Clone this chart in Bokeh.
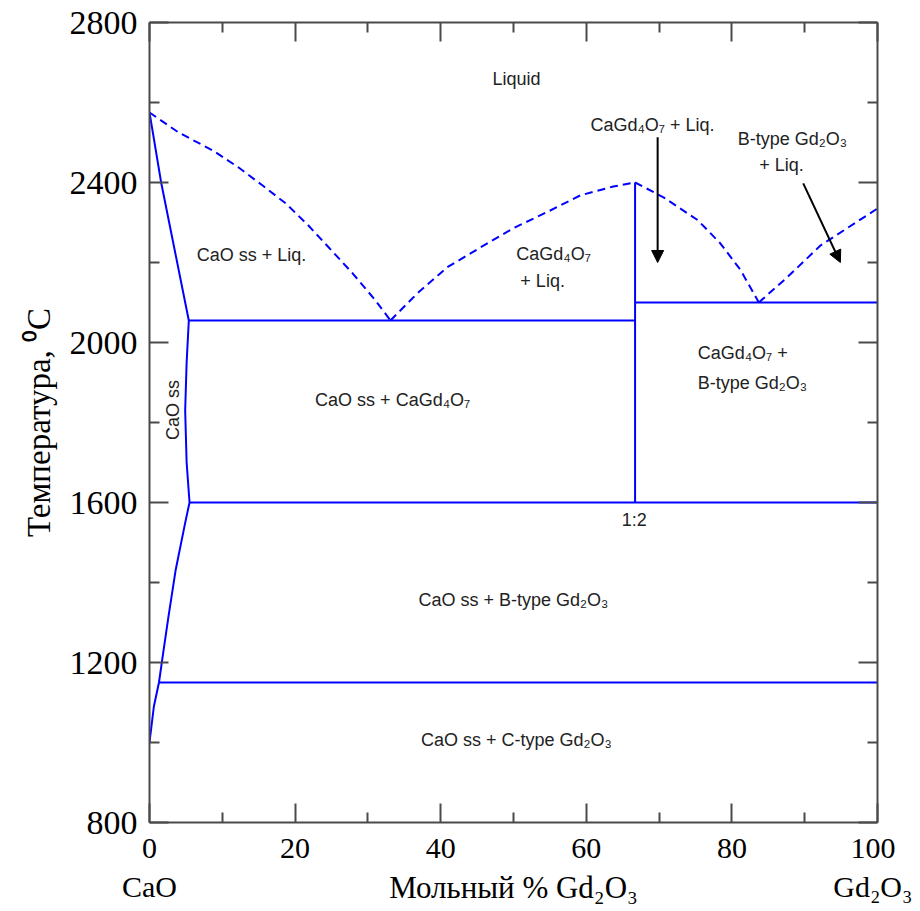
from math import pi
from bokeh.plotting import figure
from bokeh.models import (Range1d, FixedTicker, LinearAxis, ColumnDataSource, Arrow,
                          NormalHead, Title, CustomJSTickFormatter)
from bokeh.core.properties import value
from bokeh.embed import file_html
from bokeh.resources import INLINE

# ---------------- data ----------------
x_major = [0, 20, 40, 60, 80, 100]
x_minor = [10, 30, 50, 70, 90]
y_major = [800, 1200, 1600, 2000, 2400, 2800]
y_minor = [1000, 1400, 1800, 2200, 2600]
x_end_labels = {0: "0\nCaO", 100: "100\nGd₂O₃"}

# liquidus (dashed)
liq_left_x = [0, 4.0, 8.7, 12.2, 15.5, 18.7, 21.8, 24.6, 27.9, 31.0, 33.1]
liq_left_t = [2575, 2525, 2480, 2438, 2393, 2348, 2293, 2238, 2173, 2106, 2055]
liq_mid_x = [33.1, 36.8, 40.9, 45.5, 50.0, 54.6, 59.2, 63.7, 66.7]
liq_mid_t = [2055, 2123, 2188, 2238, 2286, 2326, 2368, 2390, 2400]
liq_right_x = [66.7, 70.6, 75.3, 78.4, 81.2, 83.7]
liq_right_t = [2400, 2363, 2306, 2248, 2181, 2100]
liq_gd_x = [83.7, 87.6, 92.2, 100]
liq_gd_t = [2100, 2163, 2243, 2335]

# CaO solid solution boundary (solid)
ss_x = [0, 1.6, 5.4, 5.1, 4.9, 5.1, 5.5, 4.9, 3.6, 2.6, 1.8, 1.3, 0.6, 0]
ss_t = [2575, 2400, 2055, 1950, 1830, 1700, 1600, 1549, 1432, 1314, 1214, 1150, 1090, 1000]

# invariant lines
seg_x0 = [5.4, 5.5, 1.3, 66.7, 66.7]
seg_x1 = [66.7, 100, 100, 100, 66.7]
seg_t0 = [2055, 1600, 1150, 2100, 1600]
seg_t1 = [2055, 1600, 1150, 2100, 2400]

# arrows
arrow_x0 = [69.8, 89.8]
arrow_t0 = [2513, 2398]
arrow_x1 = [69.8, 94.9]
arrow_t1 = [2200, 2200]

# field labels
lab_text = ["Liquid", "CaO ss + Liq.", "CaGd₄O₇", "+ Liq.", "CaGd₄O₇ + Liq.",
            "B-type Gd₂O₃", "+ Liq.", "CaO ss + CaGd₄O₇",
            "CaO ss + B-type Gd₂O₃", "CaO ss + C-type Gd₂O₃", "1:2"]
lab_x = [50.4, 14.0, 55.5, 54.0, 69.1, 88.3, 86.8, 33.4, 50.0, 50.4, 66.6]
lab_t = [2660, 2218, 2221, 2153, 2543, 2510, 2443, 1856, 1357, 1007, 1557]

lab2_text = ["CaGd₄O₇ +", "B-type Gd₂O₃"]
lab2_x = [75.3, 75.3]
lab2_t = [1974, 1899]

rot_text = ["CaO ss"]
rot_x = [3.2]
rot_t = [1831]

# ---------------- figure ----------------
BLUE = "#0000ff"
AXC = "#4a4a4a"

p = figure(width=912, height=908, x_range=Range1d(0, 100), y_range=Range1d(800, 2800),
           output_backend="svg", toolbar_location=None,
           min_border_left=149, min_border_top=22, min_border_right=35, min_border_bottom=85,
           x_axis_location=None, y_axis_location=None)
p.grid.visible = False
p.outline_line_color = None
p.background_fill_color = "white"
p.border_fill_color = "white"

def style_axis(ax, major, minor, show_labels, size):
    ax.ticker = FixedTicker(ticks=major, minor_ticks=minor)
    ax.axis_line_color = AXC
    ax.axis_line_width = 2
    ax.major_tick_line_color = AXC
    ax.minor_tick_line_color = AXC
    ax.major_tick_line_width = 2
    ax.minor_tick_line_width = 2
    ax.major_tick_in = 19
    ax.major_tick_out = 0
    ax.minor_tick_in = 10
    ax.minor_tick_out = 0
    ax.major_label_text_font = "Liberation Serif"
    ax.major_label_text_font_size = size
    ax.major_label_text_color = "black"
    if not show_labels:
        ax.formatter = CustomJSTickFormatter(code="return ''")
        ax.major_label_standoff = 0

left = LinearAxis()
style_axis(left, y_major, y_minor, True, "34px")
left.major_label_standoff = 12
p.add_layout(left, "left")

right = LinearAxis()
style_axis(right, y_major, y_minor, False, "10px")
p.add_layout(right, "right")

below = LinearAxis(axis_label="Мольный % Gd₂O₃")
style_axis(below, x_major, x_minor, True, "30px")
below.major_label_overrides = x_end_labels
below.major_label_standoff = 8
below.axis_label_standoff = -36
below.axis_label_text_font = "Liberation Serif"
below.axis_label_text_font_size = "31px"
below.axis_label_text_font_style = "normal"
below.axis_label_text_color = "black"
p.add_layout(below, "below")

above = LinearAxis()
style_axis(above, x_major, x_minor, False, "10px")
p.add_layout(above, "above")

ytitle = Title(text="Температура, ⁰C", align="center", offset=110, standoff=20,
               text_font="Liberation Serif", text_font_size="33px",
               text_font_style="normal", text_color="black")
p.add_layout(ytitle, "left")

# liquidus
for xs, ts in [(liq_left_x, liq_left_t), (liq_mid_x, liq_mid_t),
               (liq_right_x, liq_right_t), (liq_gd_x, liq_gd_t)]:
    p.line(xs, ts, line_color=BLUE, line_width=2, line_dash="8 5")

# solidus / solvus
p.line(ss_x, ss_t, line_color=BLUE, line_width=2)
p.segment(x0=seg_x0, y0=seg_t0, x1=seg_x1, y1=seg_t1, line_color=BLUE, line_width=2)

# arrows
for i in range(len(arrow_x0)):
    p.add_layout(Arrow(end=NormalHead(size=12, fill_color="black", line_color="black"),
                       x_start=arrow_x0[i], y_start=arrow_t0[i],
                       x_end=arrow_x1[i], y_end=arrow_t1[i],
                       line_color="black", line_width=2))

# labels
src = ColumnDataSource(dict(x=lab_x, y=lab_t, text=lab_text))
p.text(x="x", y="y", text="text", source=src, text_align="center", text_baseline="middle",
       text_font=value("Liberation Sans"), text_font_size="18px", text_color="#222222")
src2 = ColumnDataSource(dict(x=lab2_x, y=lab2_t, text=lab2_text))
p.text(x="x", y="y", text="text", source=src2, text_align="left", text_baseline="middle",
       text_font=value("Liberation Sans"), text_font_size="18px", text_color="#222222")
src3 = ColumnDataSource(dict(x=rot_x, y=rot_t, text=rot_text))
p.text(x="x", y="y", text="text", source=src3, text_align="center", text_baseline="middle",
       angle=pi / 2, text_font=value("Liberation Sans"), text_font_size="18px",
       text_color="#222222")

open("out.html", "w").write(file_html(p, INLINE))
